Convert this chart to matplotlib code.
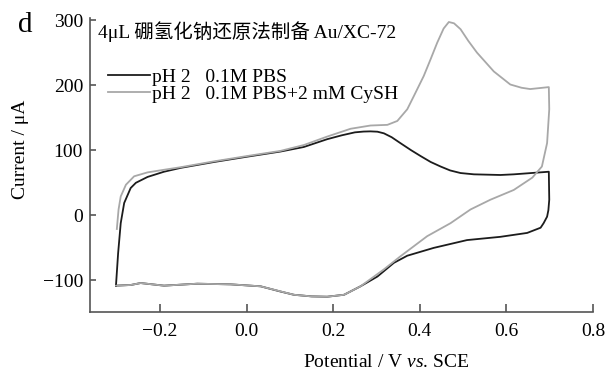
import numpy as np
import matplotlib
matplotlib.use('Agg')
import matplotlib.pyplot as plt

plt.rcParams['font.family'] = ['Liberation Serif', 'Noto Sans CJK SC']
plt.rcParams['mathtext.fontset'] = 'custom'
plt.rcParams['mathtext.rm'] = 'Liberation Serif'
plt.rcParams['mathtext.it'] = 'Liberation Serif:italic'

# PBS only (black), one full cycle: forward scan then reverse
pbs_E = [-0.302, -0.297, -0.291, -0.283, -0.268, -0.256, -0.229, -0.191, -0.152, -0.075,
         0.0, 0.078, 0.132, 0.186, 0.22, 0.25, 0.27, 0.286, 0.302, 0.317, 0.335, 0.355,
         0.38, 0.402, 0.425, 0.448, 0.47,
         0.494, 0.525, 0.586, 0.617, 0.698,
         0.699, 0.697, 0.694, 0.686, 0.679, 0.648, 0.586, 0.509, 0.432, 0.371, 0.34, 0.302,
         0.263, 0.225, 0.186, 0.15, 0.109, 0.078, 0.032, -0.037, -0.114, -0.191, -0.245,
         -0.268, -0.302]
pbs_I = [-108, -58, -12, 19, 42, 50, 59, 67, 73, 82,
         90, 98, 105, 117, 123, 127.5, 128.7, 129, 128.5, 126, 120, 111,
         100, 91, 82, 75, 69,
         65, 63, 62, 63, 67,
         24, 8, -2, -12, -19, -27, -33, -38, -50, -62, -73, -94,
         -109, -122, -125, -124.5, -122, -117, -109, -106, -105, -108, -104,
         -107, -108]

# PBS + 2 mM CySH (gray)
cysh_E = [-0.300, -0.296, -0.291, -0.279, -0.26, -0.229, -0.191, -0.152, -0.075, 0.0,
          0.078, 0.132, 0.186, 0.24, 0.286, 0.325, 0.348, 0.371, 0.386, 0.409,
          0.425, 0.44, 0.455, 0.467, 0.479, 0.494, 0.512, 0.532, 0.571, 0.609, 0.635, 0.655, 0.698,
          0.699, 0.694, 0.682, 0.66, 0.617, 0.563, 0.517, 0.471, 0.417, 0.355,
          0.317, 0.263, 0.225, 0.186, 0.15, 0.109, 0.032, -0.037, -0.114, -0.191, -0.245,
          -0.268, -0.302]
cysh_I = [-21, 9, 29, 47, 60, 66, 70, 74, 83, 91,
          99, 108, 121, 133, 138, 139, 145, 163, 183, 214,
          240, 265, 287, 297, 295, 286, 268, 250, 221, 201, 196, 194, 197,
          163, 111, 75, 58, 39, 24, 9, -12, -32, -63,
          -83, -109, -122, -125, -124.5, -122, -109, -106, -105, -108, -104,
          -107, -108]

xticks = [-0.2, 0.0, 0.2, 0.4, 0.6, 0.8]
yticks = [-100, 0, 100, 200, 300]

fig = plt.figure(figsize=(6.06, 3.74), dpi=100)
ax = fig.add_axes([0.1485, 0.1666, 0.83, 0.785])

ax.plot(pbs_E, pbs_I, color='#1c1c1c', lw=1.3, label='pH 2   0.1M PBS')
ax.plot(cysh_E, cysh_I, color='#a8a8a8', lw=1.3, label='pH 2   0.1M PBS+2 mM CySH')

ax.set_xlim(-0.362, 0.8)
ax.set_ylim(-148, 303)
ax.set_xticks(xticks)
ax.set_xticklabels(['\u22120.2', '0.0', '0.2', '0.4', '0.6', '0.8'])
ax.set_yticks(yticks)

for s in ['top', 'right']:
    ax.spines[s].set_visible(False)
for s in ['left', 'bottom']:
    ax.spines[s].set_color('#555555')
    ax.spines[s].set_linewidth(1.2)
ax.tick_params(axis='x', direction='in', length=6, width=1.2, color='#555555',
               labelsize=14, pad=8)
ax.tick_params(axis='y', direction='in', length=4, width=1.2, color='#555555',
               labelsize=14, pad=5)

fig.text(0.638, 0.032, r'Potential / V $\mathit{vs.}\,$SCE', ha='center', va='center', fontsize=14)
fig.text(0.034, 0.6, 'Current / \u03bcA', rotation=90, ha='center', va='center', fontsize=14)
fig.text(0.041, 0.932, 'd', ha='center', va='center', fontsize=21)

ax.text(0.016, 0.99, '4\u03bcL 硼氢化钠还原法制备 Au/XC-72', transform=ax.transAxes,
        ha='left', va='top', fontsize=14)
ax.legend(loc='upper left', bbox_to_anchor=(0.012, 0.87), frameon=False, fontsize=14,
          handlelength=2.2, handletextpad=0.1, labelspacing=0.0, borderaxespad=0.2)

fig.savefig('out.png', dpi=100)
